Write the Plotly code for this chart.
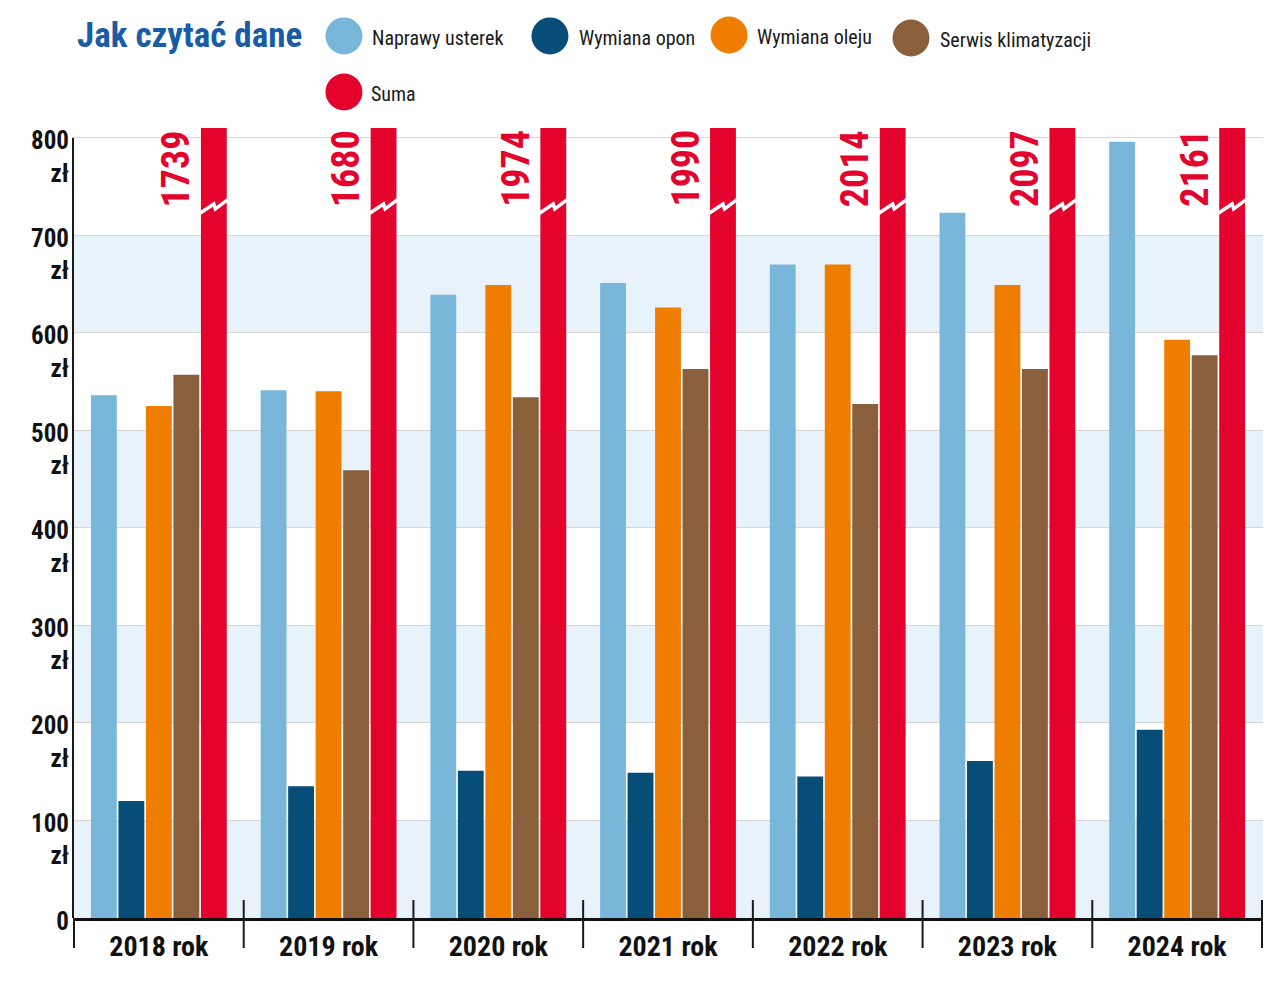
import plotly.graph_objects as go

years = ["2018 rok", "2019 rok", "2020 rok", "2021 rok", "2022 rok", "2023 rok", "2024 rok"]
naprawy = [536, 541, 639, 651, 670, 723, 796]
opony = [120, 135, 151, 149, 145, 161, 193]
olej = [525, 540, 649, 626, 670, 649, 593]
klima = [557, 459, 534, 563, 527, 563, 577]
suma = [1739, 1680, 1974, 1990, 2014, 2097, 2161]

names = ["Naprawy usterek", "Wymiana opon", "Wymiana oleju", "Serwis klimatyzacji", "Suma"]
colors = ["#79b7da", "#064e77", "#ef7d00", "#8a5f3b", "#e3032c"]
values = [naprawy, opony, olej, klima, suma]

y_ticks = [0, 100, 200, 300, 400, 500, 600, 700, 800]
y_labels = ["0<br>\u00a0"] + [f"{v}<br>zł" for v in y_ticks[1:]]
y_max = 810

COND = "Roboto Condensed, Liberation Sans, sans-serif"

bargap = 0.19
bargroupgap = 0.06

fig = go.Figure()
for name, vals, col in zip(names, values, colors):
    fig.add_trace(go.Bar(x=years, y=vals, name=name, marker=dict(color=col, line=dict(width=0)),
                         showlegend=False))

shapes = []
annotations = []

# alternating background bands
for lo in [0, 200, 400, 600]:
    shapes.append(dict(type="rect", xref="paper", yref="y", x0=0, x1=1, y0=lo, y1=lo + 100,
                       fillcolor="#e8f2fb", line=dict(width=0), layer="below"))

# y axis line
shapes.append(dict(type="line", xref="paper", yref="y", x0=0, x1=0, y0=0, y1=800,
                   line=dict(color="#1a1a1a", width=2)))

# category separators
for i in range(len(years) + 1):
    b = i - 0.5
    shapes.append(dict(type="line", xref="x", yref="paper", x0=b, x1=b,
                       y0=(0.0228 if i > 0 else 0), y1=-0.038,
                       line=dict(color="#1a1a1a", width=2)))

# Suma bar geometry (from grouped bar layout)
n = len(names)
slot = (1 - bargap) / n
bw = slot * (1 - bargroupgap)
red_c = (n - 1 - (n - 1) / 2) * slot
red_l = red_c - bw / 2
red_r = red_c + bw / 2

for i, s in enumerate(suma):
    L = i + red_l
    R = i + red_r
    W = R - L
    path = (f"M {L - 0.01},722 L {L + W * 0.5},732 L {L + W * 0.56},727 L {R + 0.01},737")
    shapes.append(dict(type="path", xref="x", yref="y", path=path,
                       line=dict(color="white", width=3.5)))
    annotations.append(dict(x=L, y=y_max, xref="x", yref="y", text=f"<b>{s}</b>",
                            textangle=-90, xanchor="right", yanchor="top", xshift=-1,
                            showarrow=False, font=dict(family=COND, size=38, color=colors[-1])))

# title
annotations.append(dict(x=0.0017, y=1.1177, xref="paper", yref="paper", text="<b>Jak czytać dane</b>",
                        xanchor="left", yanchor="middle", showarrow=False,
                        font=dict(family=COND, size=35, color="#1a5ba6")))

# manual legend with large circles
leg_pos = [(0.2277, 1.1165, 0.2496), (0.4008, 1.1165, 0.4235), (0.5513, 1.1177, 0.5731),
           (0.7042, 1.1139, 0.7269), (0.2277, 1.0456, 0.2487)]
for (cx, cy, tx), name, col in zip(leg_pos, names, colors):
    shapes.append(dict(type="circle", xref="paper", yref="paper", xsizemode="pixel", ysizemode="pixel",
                       xanchor=cx, yanchor=cy, x0=-18.5, x1=18.5, y0=-18.5, y1=18.5,
                       fillcolor=col, line=dict(width=0)))
    annotations.append(dict(x=tx, y=cy, xref="paper", yref="paper", text=name, xanchor="left",
                            yanchor="middle", yshift=-2, showarrow=False,
                            font=dict(family=COND, size=20, color="#1a1a1a")))

fig.update_layout(
    width=1280, height=983,
    margin=dict(l=73, r=17, t=128, b=65),
    paper_bgcolor="white", plot_bgcolor="white",
    barmode="group", bargap=bargap, bargroupgap=bargroupgap,
    shapes=shapes, annotations=annotations,
    showlegend=False,
    xaxis=dict(showline=True, linewidth=3, linecolor="#111", ticks="", showgrid=False,
               tickfont=dict(family=COND, size=28, color="#111", weight="bold"), zeroline=False,
               ticklabelstandoff=1),
    yaxis=dict(range=[0, y_max], tickvals=y_ticks, ticktext=y_labels,
               showgrid=True, gridcolor="#d6d6d6", gridwidth=1, zeroline=False, showline=False,
               ticks="", tickfont=dict(family=COND, size=25, color="#111", weight="bold"),
               ticklabelshift=19, ticklabelstandoff=3),
)

fig.write_html("out.html")
